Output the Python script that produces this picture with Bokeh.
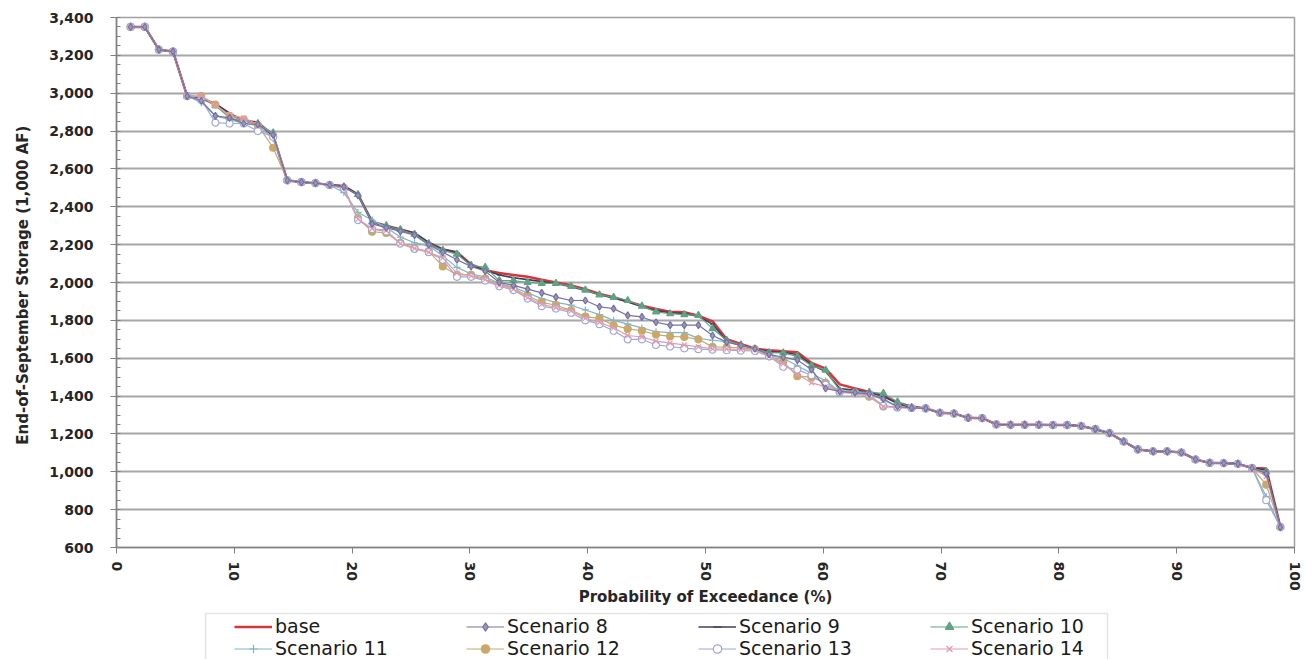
from bokeh.plotting import figure
from bokeh.layouts import column
from bokeh.models import (Legend, LegendItem, NumeralTickFormatter,
                          SingleIntervalTicker, BoxAnnotation)
from bokeh.embed import file_html
from bokeh.resources import INLINE

# Probability of exceedance (%) for each of the 82 ranked years
exceedance = [1.2, 2.4, 3.6, 4.8, 6.0, 7.2, 8.4, 9.6, 10.8, 12.0,
              13.3, 14.5, 15.7, 16.9, 18.1, 19.3, 20.5, 21.7, 22.9, 24.1,
              25.3, 26.5, 27.7, 28.9, 30.1, 31.3, 32.5, 33.7, 34.9, 36.1,
              37.3, 38.6, 39.8, 41.0, 42.2, 43.4, 44.6, 45.8, 47.0, 48.2,
              49.4, 50.6, 51.8, 53.0, 54.2, 55.4, 56.6, 57.8, 59.0, 60.2,
              61.4, 62.7, 63.9, 65.1, 66.3, 67.5, 68.7, 69.9, 71.1, 72.3,
              73.5, 74.7, 75.9, 77.1, 78.3, 79.5, 80.7, 81.9, 83.1, 84.3,
              85.5, 86.7, 88.0, 89.2, 90.4, 91.6, 92.8, 94.0, 95.2, 96.4,
              97.6, 98.8]

# End-of-September storage (1,000 AF)
base = [3350, 3350, 3230, 3220, 2985, 2975, 2940, 2890, 2855, 2845,
        2775, 2540, 2530, 2525, 2515, 2510, 2465, 2320, 2300, 2280,
        2260, 2210, 2175, 2160, 2095, 2065, 2050, 2040, 2030, 2015,
        2000, 1985, 1965, 1940, 1922, 1900, 1878, 1860, 1846, 1843,
        1825, 1795, 1700, 1675, 1650, 1642, 1637, 1632, 1575, 1545,
        1462, 1440, 1422, 1400, 1365, 1345, 1335, 1312, 1308, 1285,
        1283, 1250, 1248, 1248, 1248, 1247, 1247, 1242, 1225, 1204,
        1160, 1118, 1108, 1108, 1102, 1065, 1047, 1046, 1042, 1020,
        1018, 708]

scenario8 = [3350, 3350, 3230, 3220, 2985, 2960, 2880, 2870, 2840, 2835,
             2780, 2540, 2530, 2525, 2515, 2505, 2460, 2310, 2290, 2270,
             2250, 2200, 2160, 2120, 2085, 2060, 2000, 1985, 1965, 1945,
             1923, 1905, 1905, 1872, 1862, 1826, 1818, 1790, 1775, 1775,
             1775, 1720, 1685, 1668, 1650, 1620, 1605, 1590, 1540, 1440,
             1425, 1418, 1412, 1385, 1345, 1338, 1335, 1312, 1308, 1285,
             1283, 1250, 1248, 1248, 1248, 1247, 1247, 1242, 1225, 1204,
             1160, 1118, 1108, 1108, 1102, 1065, 1047, 1046, 1042, 1020,
             990, 708]

scenario9 = [3350, 3350, 3230, 3220, 2985, 2975, 2945, 2895, 2855, 2845,
             2775, 2540, 2530, 2525, 2515, 2510, 2465, 2320, 2300, 2280,
             2262, 2210, 2175, 2158, 2090, 2065, 2040, 2025, 2015, 2005,
             1995, 1978, 1958, 1935, 1918, 1898, 1872, 1852, 1840, 1836,
             1820, 1780, 1690, 1670, 1650, 1635, 1630, 1620, 1565, 1530,
             1440, 1430, 1420, 1400, 1360, 1340, 1335, 1312, 1308, 1285,
             1283, 1250, 1248, 1248, 1248, 1247, 1247, 1242, 1225, 1204,
             1160, 1118, 1108, 1108, 1102, 1065, 1047, 1046, 1042, 1020,
             1010, 708]

scenario10 = [3350, 3350, 3230, 3220, 2985, 2980, 2935, 2870, 2850, 2840,
              2790, 2540, 2530, 2525, 2515, 2505, 2465, 2320, 2300, 2280,
              2255, 2205, 2170, 2150, 2090, 2080, 2010, 2010, 2000, 1995,
              1995, 1980, 1960, 1935, 1922, 1905, 1875, 1845, 1835, 1830,
              1826, 1756, 1695, 1670, 1650, 1630, 1628, 1610, 1560, 1537,
              1428, 1425, 1420, 1414, 1370, 1340, 1335, 1312, 1308, 1285,
              1283, 1250, 1248, 1248, 1248, 1247, 1247, 1242, 1225, 1204,
              1160, 1118, 1108, 1108, 1102, 1065, 1047, 1046, 1042, 1020,
              1000, 708]

scenario11 = [3350, 3350, 3230, 3220, 2985, 2950, 2880, 2860, 2840, 2830,
              2760, 2540, 2530, 2525, 2515, 2475, 2370, 2330, 2290, 2240,
              2210, 2195, 2140, 2080, 2045, 2030, 1995, 1975, 1945, 1915,
              1895, 1880, 1855, 1830, 1800, 1780, 1760, 1740, 1735, 1735,
              1705, 1695, 1688, 1668, 1650, 1615, 1600, 1560, 1520, 1480,
              1425, 1418, 1410, 1380, 1342, 1338, 1335, 1312, 1308, 1285,
              1283, 1250, 1248, 1248, 1248, 1247, 1247, 1242, 1225, 1204,
              1160, 1118, 1108, 1108, 1102, 1065, 1047, 1046, 1042, 1020,
              870, 708]

scenario12 = [3350, 3350, 3230, 3220, 2985, 2985, 2940, 2880, 2860, 2830,
              2712, 2540, 2530, 2525, 2515, 2500, 2340, 2268, 2262, 2210,
              2180, 2165, 2085, 2040, 2040, 2020, 1990, 1970, 1930, 1895,
              1880, 1853, 1820, 1810, 1775, 1755, 1745, 1725, 1715, 1712,
              1700, 1660, 1658, 1655, 1648, 1610, 1580, 1505, 1500, 1470,
              1422, 1416, 1397, 1345, 1340, 1337, 1335, 1312, 1308, 1285,
              1283, 1250, 1248, 1248, 1248, 1247, 1247, 1242, 1225, 1204,
              1160, 1118, 1108, 1108, 1102, 1065, 1047, 1046, 1042, 1020,
              932, 708]

scenario13 = [3350, 3350, 3230, 3220, 2985, 2965, 2845, 2840, 2840, 2800,
              2770, 2540, 2530, 2525, 2515, 2495, 2330, 2282, 2270, 2205,
              2178, 2160, 2120, 2030, 2030, 2010, 1980, 1960, 1915, 1875,
              1862, 1840, 1800, 1780, 1745, 1700, 1700, 1670, 1662, 1652,
              1648, 1645, 1642, 1640, 1638, 1610, 1555, 1540, 1510, 1460,
              1420, 1415, 1405, 1350, 1340, 1337, 1335, 1312, 1308, 1285,
              1283, 1250, 1248, 1248, 1248, 1247, 1247, 1242, 1225, 1204,
              1160, 1118, 1108, 1108, 1102, 1065, 1047, 1046, 1042, 1020,
              850, 708]

scenario14 = [3350, 3350, 3230, 3220, 2985, 2985, 2935, 2885, 2870, 2835,
              2783, 2540, 2530, 2525, 2515, 2500, 2335, 2285, 2275, 2205,
              2180, 2160, 2130, 2050, 2035, 2015, 1985, 1965, 1920, 1885,
              1868, 1850, 1810, 1790, 1760, 1720, 1712, 1690, 1680, 1670,
              1660, 1650, 1648, 1646, 1644, 1608, 1570, 1515, 1470, 1450,
              1421, 1416, 1400, 1345, 1340, 1337, 1335, 1312, 1308, 1285,
              1283, 1250, 1248, 1248, 1248, 1247, 1247, 1242, 1225, 1204,
              1160, 1118, 1108, 1108, 1102, 1065, 1047, 1046, 1042, 1020,
              976, 708]

series_names = ["Scenario 8", "Scenario 9", "Scenario 10", "Scenario 11",
                "Scenario 12", "Scenario 13", "Scenario 14"]
series_values = [scenario8, scenario9, scenario10, scenario11,
                 scenario12, scenario13, scenario14]
series_colors = ["#7470A4", "#3E3F5C", "#5FA383", "#7FB5C9",
                 "#C9A86A", "#9FA8D6", "#E39AAE"]
series_markers = ["diamond", "dash", "triangle", "cross",
                  "circle", "circle", "x"]
series_fill = ["#9C97B4", "#3E3F5C", "#5FA383", "#7FB5C9",
               "#C9A86A", "white", "#E39AAE"]
draw_order = [1, 2, 3, 4, 5, 6, 0]   # Scenario 8 (diamonds) drawn last

FONT = "DejaVu Sans"
TXT = "#262626"
BASE_COLOR = "#D3373B"

p = figure(width=1312, height=608, x_range=(0, 100), y_range=(600, 3400),
           output_backend="svg", toolbar_location=None,
           min_border_left=116, min_border_right=18,
           min_border_top=17, min_border_bottom=61,
           background_fill_color="white", border_fill_color="white")

p.outline_line_color = "#A0A0A0"
p.outline_line_width = 1.5
p.xgrid.visible = False
p.ygrid.grid_line_color = "#A6A6A6"
p.ygrid.grid_line_width = 2

p.yaxis.ticker = SingleIntervalTicker(interval=200, num_minor_ticks=4)
p.xaxis.ticker = SingleIntervalTicker(interval=10, num_minor_ticks=0)
p.yaxis.formatter = NumeralTickFormatter(format="0,0")

for ax in (p.xaxis[0], p.yaxis[0]):
    ax.axis_line_color = "#808080"
    ax.axis_line_width = 1.5
    ax.major_tick_line_color = "#808080"
    ax.minor_tick_line_color = "#808080"
    ax.major_tick_out = 6
    ax.major_tick_in = 0
    ax.minor_tick_in = 4
    ax.minor_tick_out = 0
    ax.major_label_text_font = FONT
    ax.major_label_text_font_style = "bold"
    ax.major_label_text_font_size = "14px"
    ax.major_label_text_color = TXT
    ax.axis_label_text_font = FONT
    ax.axis_label_text_font_style = "bold"
    ax.axis_label_text_font_size = "15px"
    ax.axis_label_text_color = TXT

p.yaxis.axis_label = "End-of-September  Storage (1,000 AF)"
p.xaxis.axis_label = "Probability of Exceedance (%)"
p.xaxis.major_label_orientation = "vertical"
p.xaxis.major_label_standoff = 8
p.xaxis.axis_label_standoff = -6
p.yaxis.major_label_standoff = 17
p.yaxis.axis_label_standoff = 14

p.line(exceedance, base, line_color=BASE_COLOR, line_width=2.5)
for k in draw_order:
    name, vals, col = series_names[k], series_values[k], series_colors[k]
    mk, fc = series_markers[k], series_fill[k]
    p.line(exceedance, vals, line_color=col,
           line_width=1.6 if name == "Scenario 9" else 1.2)
    p.scatter(exceedance, vals, marker=mk, size=7 if mk != "dash" else 5,
              line_color=col, fill_color=fc, line_width=1.2)

# ---- legend strip below the chart (its frame lines up with the chart's) ----
# x_range / y_range of the strip are in page pixels so the legend box can be
# placed like the reference; the series themselves fall outside this range.
lg = figure(width=1312, height=51, x_range=(116, 1294), y_range=(51, 0),
            output_backend="svg", toolbar_location=None,
            x_axis_type=None, y_axis_type=None,
            min_border_left=0, min_border_right=0,
            min_border_top=0, min_border_bottom=0,
            background_fill_color="white", border_fill_color="white")
lg.outline_line_color = None
lg.grid.visible = False

lg.add_layout(BoxAnnotation(left=205, right=1107, top=5, bottom=70,
                            fill_color="white", fill_alpha=1,
                            line_color="#A6A6A6", line_width=1.5))

items = [LegendItem(label="base",
                    renderers=[lg.line(exceedance, base, line_color=BASE_COLOR,
                                       line_width=2.5)])]
for k in range(len(series_names)):
    col, mk, fc = series_colors[k], series_markers[k], series_fill[k]
    rl = lg.line(exceedance, series_values[k], line_color=col,
                 line_width=1.6 if series_names[k] == "Scenario 9" else 1.2)
    rs = lg.scatter(exceedance, series_values[k], marker=mk,
                    size=6 if mk != "dash" else 5,
                    line_color=col, fill_color=fc, line_width=1.2)
    items.append(LegendItem(label=series_names[k], renderers=[rl, rs]))

legend = Legend(items=items, orientation="horizontal", ncols=4,
                location=(118, 0), glyph_width=38, glyph_height=21,
                label_height=21, label_standoff=3, label_width=191,
                spacing=0, padding=2, margin=0,
                label_text_font="DejaVu Sans", label_text_font_size="19px",
                label_text_color="#1A1A1A",
                border_line_color=None, background_fill_alpha=0)
lg.add_layout(legend, "center")

page = column(p, lg, spacing=0)
open("out.html", "w").write(file_html(page, INLINE))
